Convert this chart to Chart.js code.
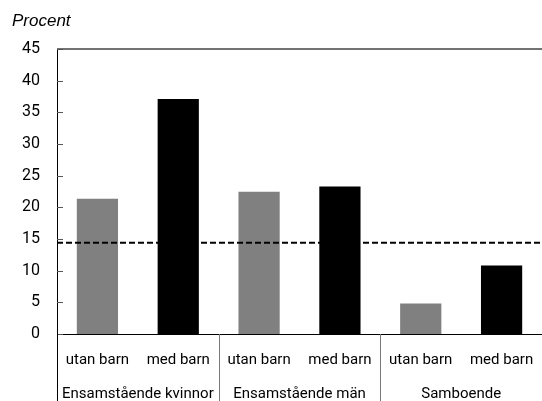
<!DOCTYPE html>
<html lang="sv">
<head>
    <meta charset="UTF-8">
    <title>Procent</title>
    <script src="https://cdn.jsdelivr.net/npm/chart.js"></script>
    <style>
        html, body { margin: 0; padding: 0; background: #ffffff; }
        #wrap { width: 542px; height: 401px; }
    </style>
</head>
<body>
<div id="wrap"><canvas id="chart" width="542" height="401"></canvas></div>
<script>
    const categories = ['utan barn', 'med barn', 'utan barn', 'med barn', 'utan barn', 'med barn'];
    const groups = ['Ensamstående kvinnor', 'Ensamstående män', 'Samboende'];
    const values = [21.35, 37.1, 22.45, 23.3, 4.8, 10.8];
    const barColors = ['#808080', '#000000', '#808080', '#000000', '#808080', '#000000'];
    const average = 14.4;

    const axisFont = 'Roboto, "Liberation Sans", Arial, sans-serif';

    // ramlinjer, inre tickmarkeringar, gruppavdelare och snittlinje
    const extras = {
        id: 'extras',
        afterDatasetsDraw(chart) {
            const ctx = chart.ctx;
            const a = chart.chartArea;
            const x = chart.scales.x;
            const y = chart.scales.y;
            ctx.save();

            // streckad linje för genomsnittet
            const ya = y.getPixelForValue(average);
            ctx.setLineDash([6, 3]);
            ctx.strokeStyle = '#000';
            ctx.lineWidth = 2;
            ctx.beginPath();
            ctx.moveTo(a.left, ya);
            ctx.lineTo(a.right, ya);
            ctx.stroke();
            ctx.setLineDash([]);

            // övre linje
            ctx.strokeStyle = '#444';
            ctx.lineWidth = 1.5;
            ctx.beginPath();
            ctx.moveTo(a.left, a.top);
            ctx.lineTo(a.right, a.top);
            ctx.stroke();

            // tickmarkeringar inåt
            ctx.strokeStyle = '#555';
            ctx.lineWidth = 1;
            y.ticks.forEach(t => {
                const p = Math.round(y.getPixelForValue(t.value)) + 0.5;
                ctx.beginPath();
                ctx.moveTo(a.left, p);
                ctx.lineTo(a.left + 6, p);
                ctx.stroke();
            });

            // vänster axel ner till botten
            ctx.strokeStyle = '#000';
            ctx.beginPath();
            ctx.moveTo(a.left + 0.5, a.bottom);
            ctx.lineTo(a.left + 0.5, chart.height);
            ctx.stroke();

            // avdelare mellan grupperna
            ctx.strokeStyle = '#777';
            for (let i = 2; i < categories.length; i += 2) {
                const px = Math.round((x.getPixelForValue(i - 1) + x.getPixelForValue(i)) / 2) + 0.5;
                ctx.beginPath();
                ctx.moveTo(px, a.bottom);
                ctx.lineTo(px, chart.height);
                ctx.stroke();
            }
            ctx.restore();
        }
    };

    const utanKant = s => { s.paddingLeft = 0; s.paddingRight = 0; };

    new Chart(document.getElementById('chart'), {
        type: 'bar',
        data: {
            labels: categories,
            datasets: [{
                data: values,
                backgroundColor: barColors,
                borderWidth: 0,
                categoryPercentage: 1,
                barPercentage: 0.51
            }]
        },
        options: {
            responsive: false,
            animation: false,
            layout: { padding: { left: 12, right: 0, top: 0, bottom: 0 } },
            plugins: {
                legend: { display: false },
                tooltip: { enabled: false },
                title: {
                    display: true,
                    text: 'Procent',
                    align: 'start',
                    color: '#000',
                    font: { family: '"Liberation Sans", Arial, sans-serif', size: 17, style: 'italic', weight: 'normal' },
                    padding: { top: 11, bottom: 17.6 }
                }
            },
            scales: {
                x: {
                    weight: 0,
                    grid: { display: false, drawTicks: false },
                    border: { display: true, color: '#000', width: 1 },
                    ticks: { color: '#000', padding: 17, maxRotation: 0, minRotation: 0, autoSkip: false,
                             font: { family: axisFont, size: 15 } },
                    afterFit: s => { s.height = 42; utanKant(s); }
                },
                x2: {
                    type: 'category',
                    position: 'bottom',
                    weight: 1,
                    labels: groups,
                    offset: true,
                    grid: { display: false, drawTicks: false },
                    border: { display: false },
                    ticks: { color: '#000', padding: 9, maxRotation: 0, minRotation: 0, autoSkip: false,
                             font: { family: axisFont, size: 15 } },
                    afterFit: s => { s.height = 25; utanKant(s); }
                },
                y: {
                    min: 0,
                    max: 45,
                    ticks: { stepSize: 5, color: '#000', padding: 17, font: { family: axisFont, size: 16 } },
                    grid: { display: false, drawTicks: false },
                    border: { display: true, color: '#000', width: 1 },
                    afterFit: s => { s.width = 45; }
                }
            }
        },
        plugins: [extras]
    });
</script>
</body>
</html>
